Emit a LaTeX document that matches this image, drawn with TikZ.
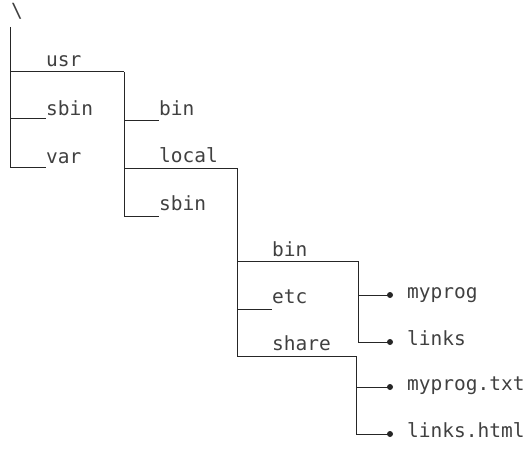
\documentclass[tikz,border=0pt]{standalone}
\usepackage{fontspec}
\setmonofont{DejaVu Sans Mono}
\tikzset{
  lbl/.style={font=\ttfamily\fontsize{19.5}{22}\selectfont, inner sep=0pt, anchor=base west, text=black!75},
  leaf/.style={lbl, anchor=mid west},
  tree/.style={draw=black!85, line width=1pt},
  dotmark/.style={circle, fill=black!85, draw=none, inner sep=0pt, minimum size=6pt}
}
\begin{document}
\begin{tikzpicture}[x=1pt,y=-1pt]
\useasboundingbox (0,0) rectangle (529,449);
% root
\node[lbl, anchor=north west] (root) at (11,3) {\textbackslash};
% level 1
\node[lbl] (usr) at (46,67) {usr};
\node[lbl] (sbinA) at (46,116) {sbin};
\node[lbl] (var) at (46,163) {var};
% level 2
\node[lbl] (binA) at (159,116) {bin};
\node[lbl] (local) at (159,162) {local};
\node[lbl] (sbinB) at (159,210) {sbin};
% level 3
\node[lbl] (binB) at (272,256) {bin};
\node[lbl] (etc) at (272,303) {etc};
\node[lbl] (share) at (272,350) {share};
% leaves
\node[leaf] (myprog) at (407,296) {myprog};
\node[leaf] (links) at (407,343) {links};
\node[leaf] (myprogtxt) at (407,388) {myprog.txt};
\node[leaf] (linkshtml) at (407,435) {links.html};
% dots
\node[dotmark] (d1) at (390,295) {};
\node[dotmark] (d2) at (390,342) {};
\node[dotmark] (d3) at (390,387) {};
\node[dotmark] (d4) at (390,434) {};
% junction coordinates
\coordinate (t0) at (10,27);
\coordinate (j1) at (124,72);
\coordinate (j2) at (237,168);
\coordinate (j3) at (358,261);
\coordinate (j4) at (356,356);
% trunk level 1
\draw[tree] (t0) -- (10,167) -- (var.west |- 0,167);
\draw[tree] (t0 |- j1) -- (j1);
\draw[tree] (10,119) -- (sbinA.west |- 0,119);
% level 2
\draw[tree] (j1) -- (124,216) -- (sbinB.west |- 0,216);
\draw[tree] (124,121) -- (binA.west |- 0,121);
\draw[tree] (124,168) -- (j2);
% level 3
\draw[tree] (j2) -- (237,356) -- (j4);
\draw[tree] (237,261) -- (j3);
\draw[tree] (237,309) -- (etc.west |- 0,309);
% leaves
\draw[tree] (j3) -- (j3 |- d2) -- (d2.center);
\draw[tree] (j3 |- d1) -- (d1.center);
\draw[tree] (j4) -- (j4 |- d4) -- (d4.center);
\draw[tree] (j4 |- d3) -- (d3.center);
\end{tikzpicture}
\end{document}
